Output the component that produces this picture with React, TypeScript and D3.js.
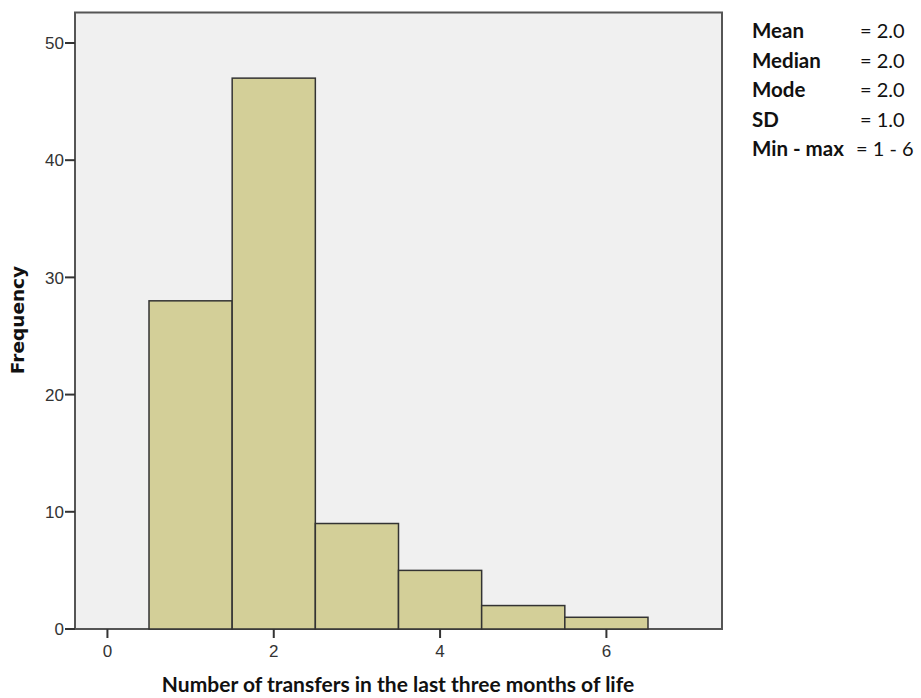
import React from "react";
import * as d3 from "d3";

const binCenters = [1, 2, 3, 4, 5, 6];
const frequencies = [28, 47, 9, 5, 2, 1];
const yTicks = [0, 10, 20, 30, 40, 50];
const xTicks = [0, 2, 4, 6];
const statLabels = ["Mean", "Median", "Mode", "SD", "Min - max"];
const statValues = ["= 2.0", "= 2.0", "= 2.0", "= 1.0", "= 1 - 6"];

export default function App() {
  const W = 921, H = 698;
  const left = 75, right = 722, top = 12.5, bottom = 629;
  const x = d3.scaleLinear().domain([-0.39, 7.39]).range([left, right]);
  const y = d3.scaleLinear().domain([0, 52.6]).range([bottom, top]);
  const axisColor = "#555";
  const tickFont = { fontFamily: "'Liberation Sans', Arial, sans-serif", fontSize: "17px" };
  return (
    <svg width={W} height={H} style={{ position: "absolute", left: 0, top: 0 }}>
      <rect x={0} y={0} width={W} height={H} fill="#fff" />
      <rect x={left} y={top} width={right - left} height={bottom - top} fill="#f0f0f0" stroke={axisColor} strokeWidth={2} />
      {binCenters.map((c, i) => (
        <rect key={i} x={x(c - 0.5)} y={y(frequencies[i])} width={x(c + 0.5) - x(c - 0.5)} height={y(0) - y(frequencies[i])}
          fill="#d3cf98" stroke="#333" strokeWidth={1.5} />
      ))}
      {yTicks.map((t) => (
        <g key={t}>
          <line x1={left - 10} x2={left} y1={y(t)} y2={y(t)} stroke="#333" strokeWidth={2} />
          <text x={left - 11} y={y(t)} dy="0.36em" textAnchor="end" style={tickFont} fill="#333">{t}</text>
        </g>
      ))}
      {xTicks.map((t) => (
        <g key={t}>
          <line x1={x(t)} x2={x(t)} y1={bottom} y2={bottom + 9} stroke="#333" strokeWidth={2} />
          <text x={x(t)} y={bottom + 22} dy="0.36em" textAnchor="middle" style={tickFont} fill="#333">{t}</text>
        </g>
      ))}
      <text transform={`translate(24,${320}) rotate(-90)`} textAnchor="middle" fontFamily="DejaVu Sans, sans-serif" fontWeight="bold" fontSize={18.5} fill="#111">Frequency</text>
      <text x={398} y={692} textAnchor="middle" fontFamily="Lato, sans-serif" fontWeight="bold" fontSize={21} fill="#111">Number of transfers in the last three months of life</text>
      {statLabels.map((s, i) => (
        <g key={s}>
          <text x={752} y={38 + i * 29.5} fontFamily="Lato, sans-serif" fontWeight="bold" fontSize={20.5} fill="#111">{s}</text>
          <text x={i === 4 ? 856 : 860} y={38 + i * 29.5} fontFamily="Lato, sans-serif" fontSize={20} fill="#111">{statValues[i]}</text>
        </g>
      ))}
    </svg>
  );
}
